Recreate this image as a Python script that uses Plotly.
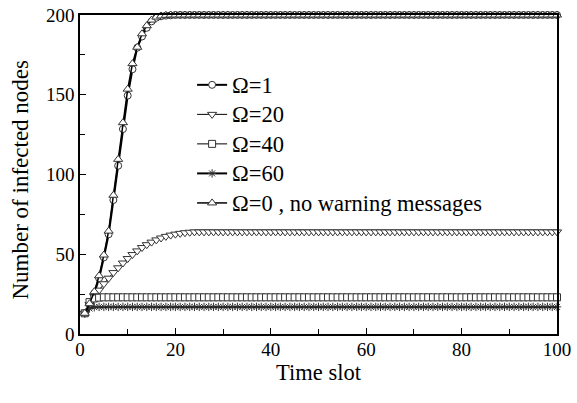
import plotly.graph_objects as go

time_slot = list(range(1, 101))

omega_1 = [
    13, 18.5, 25.5, 35, 48, 62.5, 84, 105.5, 128.5, 149.5,
    166, 179.5, 186.5, 192, 196, 198.3, 199.2, 199.6, 199.8, 200,
    200, 200, 200, 200, 200, 200, 200, 200, 200, 200,
    200, 200, 200, 200, 200, 200, 200, 200, 200, 200,
    200, 200, 200, 200, 200, 200, 200, 200, 200, 200,
    200, 200, 200, 200, 200, 200, 200, 200, 200, 200,
    200, 200, 200, 200, 200, 200, 200, 200, 200, 200,
    200, 200, 200, 200, 200, 200, 200, 200, 200, 200,
    200, 200, 200, 200, 200, 200, 200, 200, 200, 200,
    200, 200, 200, 200, 200, 200, 200, 200, 200, 200,
]
omega_20 = [
    13, 18.5, 23.5, 27.5, 31.5, 35, 38.5, 41.5, 44.5, 47.3,
    49.8, 52.1, 54.2, 56, 57.6, 59, 60.2, 61.2, 62, 62.6,
    63.1, 63.5, 63.8, 64, 64, 64, 64, 64, 64, 64,
    64, 64, 64, 64, 64, 64, 64, 64, 64, 64,
    64, 64, 64, 64, 64, 64, 64, 64, 64, 64,
    64, 64, 64, 64, 64, 64, 64, 64, 64, 64,
    64, 64, 64, 64, 64, 64, 64, 64, 64, 64,
    64, 64, 64, 64, 64, 64, 64, 64, 64, 64,
    64, 64, 64, 64, 64, 64, 64, 64, 64, 64,
    64, 64, 64, 64, 64, 64, 64, 64, 64, 64,
]
omega_40 = [
    13, 20, 22.3, 22.8, 23, 23, 23, 23, 23, 23,
    23, 23, 23, 23, 23, 23, 23, 23, 23, 23,
    23, 23, 23, 23, 23, 23, 23, 23, 23, 23,
    23, 23, 23, 23, 23, 23, 23, 23, 23, 23,
    23, 23, 23, 23, 23, 23, 23, 23, 23, 23,
    23, 23, 23, 23, 23, 23, 23, 23, 23, 23,
    23, 23, 23, 23, 23, 23, 23, 23, 23, 23,
    23, 23, 23, 23, 23, 23, 23, 23, 23, 23,
    23, 23, 23, 23, 23, 23, 23, 23, 23, 23,
    23, 23, 23, 23, 23, 23, 23, 23, 23, 23,
]
omega_60 = [
    13, 16, 16.8, 17, 17, 17, 17, 17, 17, 17,
    17, 17, 17, 17, 17, 17, 17, 17, 17, 17,
    17, 17, 17, 17, 17, 17, 17, 17, 17, 17,
    17, 17, 17, 17, 17, 17, 17, 17, 17, 17,
    17, 17, 17, 17, 17, 17, 17, 17, 17, 17,
    17, 17, 17, 17, 17, 17, 17, 17, 17, 17,
    17, 17, 17, 17, 17, 17, 17, 17, 17, 17,
    17, 17, 17, 17, 17, 17, 17, 17, 17, 17,
    17, 17, 17, 17, 17, 17, 17, 17, 17, 17,
    17, 17, 17, 17, 17, 17, 17, 17, 17, 17,
]
omega_0 = [
    13, 19, 26.5, 36.5, 49.5, 64.5, 87, 109.5, 132.5, 153.5,
    169.5, 179.8, 188.2, 193.3, 196.8, 198.7, 199.4, 199.8, 200, 200,
    200, 200, 200, 200, 200, 200, 200, 200, 200, 200,
    200, 200, 200, 200, 200, 200, 200, 200, 200, 200,
    200, 200, 200, 200, 200, 200, 200, 200, 200, 200,
    200, 200, 200, 200, 200, 200, 200, 200, 200, 200,
    200, 200, 200, 200, 200, 200, 200, 200, 200, 200,
    200, 200, 200, 200, 200, 200, 200, 200, 200, 200,
    200, 200, 200, 200, 200, 200, 200, 200, 200, 200,
    200, 200, 200, 200, 200, 200, 200, 200, 200, 200,
]

series_names = ["Ω=1", "Ω=20", "Ω=40", "Ω=60", "Ω=0 , no warning messages"]
series_values = [omega_1, omega_20, omega_40, omega_60, omega_0]
symbols = ["circle", "triangle-down", "square", "asterisk-open", "triangle-up"]
sizes = [7, 8, 7, 7, 8]
line_widths = [2, 1, 1, 2, 1.5]
marker_fill = ["white", "white", "white", "#333333", "white"]

FONT = "Liberation Serif, Times New Roman, serif"

fig = go.Figure()
for i, (name, vals) in enumerate(zip(series_names, series_values)):
    fig.add_trace(go.Scatter(
        x=time_slot, y=vals, mode="lines+markers",
        name=f"<span style='font-size:22.5px'>{name}</span>",
        line=dict(color="black", width=line_widths[i]),
        marker=dict(symbol=symbols[i], size=sizes[i], color=marker_fill[i],
                    line=dict(color="#333333", width=1)),
        cliponaxis=False,
    ))

axis_common = dict(
    showline=True, linecolor="black", linewidth=1.5, mirror=True,
    ticks="inside", tickcolor="black", showgrid=False, zeroline=False,
    automargin=False, ticklabeloverflow="allow",
    tickfont=dict(family=FONT, size=19, color="black"),
)

fig.update_xaxes(
    range=[0, 100], tickvals=[0, 20, 40, 60, 80, 100], ticklen=6,
    minor=dict(tickvals=[10, 30, 50, 70, 90], ticks="inside", ticklen=5, tickcolor="black"),
    ticklabelstandoff=-3,
    title=dict(text="Time slot", font=dict(family=FONT, size=22.5, color="black"), standoff=2),
    **axis_common,
)
fig.update_yaxes(
    range=[0, 200], tickvals=[0, 50, 100, 150, 200], ticklen=6,
    minor=dict(tickvals=[25, 75, 125, 175], ticks="inside", ticklen=5, tickcolor="black"),
    **axis_common,
)

fig.add_annotation(
    text="Number of infected nodes", textangle=-90,
    xref="paper", yref="paper", x=0, y=0.5, xanchor="center", yanchor="middle",
    xshift=-60, yshift=-5, showarrow=False,
    font=dict(family=FONT, size=23, color="black"),
)

fig.update_layout(
    width=577, height=403,
    margin=dict(l=80, r=20, t=15, b=69),
    paper_bgcolor="white", plot_bgcolor="white",
    legend=dict(
        x=0.235, y=0.843, xanchor="left", yanchor="top",
        font=dict(family=FONT, size=20.4, color="black"),
        bgcolor="rgba(0,0,0,0)",
    ),
)

# remove the browser's default 8px body margin so the figure fills the window
fig.write_html(
    "out.html",
    config={"displayModeBar": False},
    post_script="document.body.style.margin='0';",
)
